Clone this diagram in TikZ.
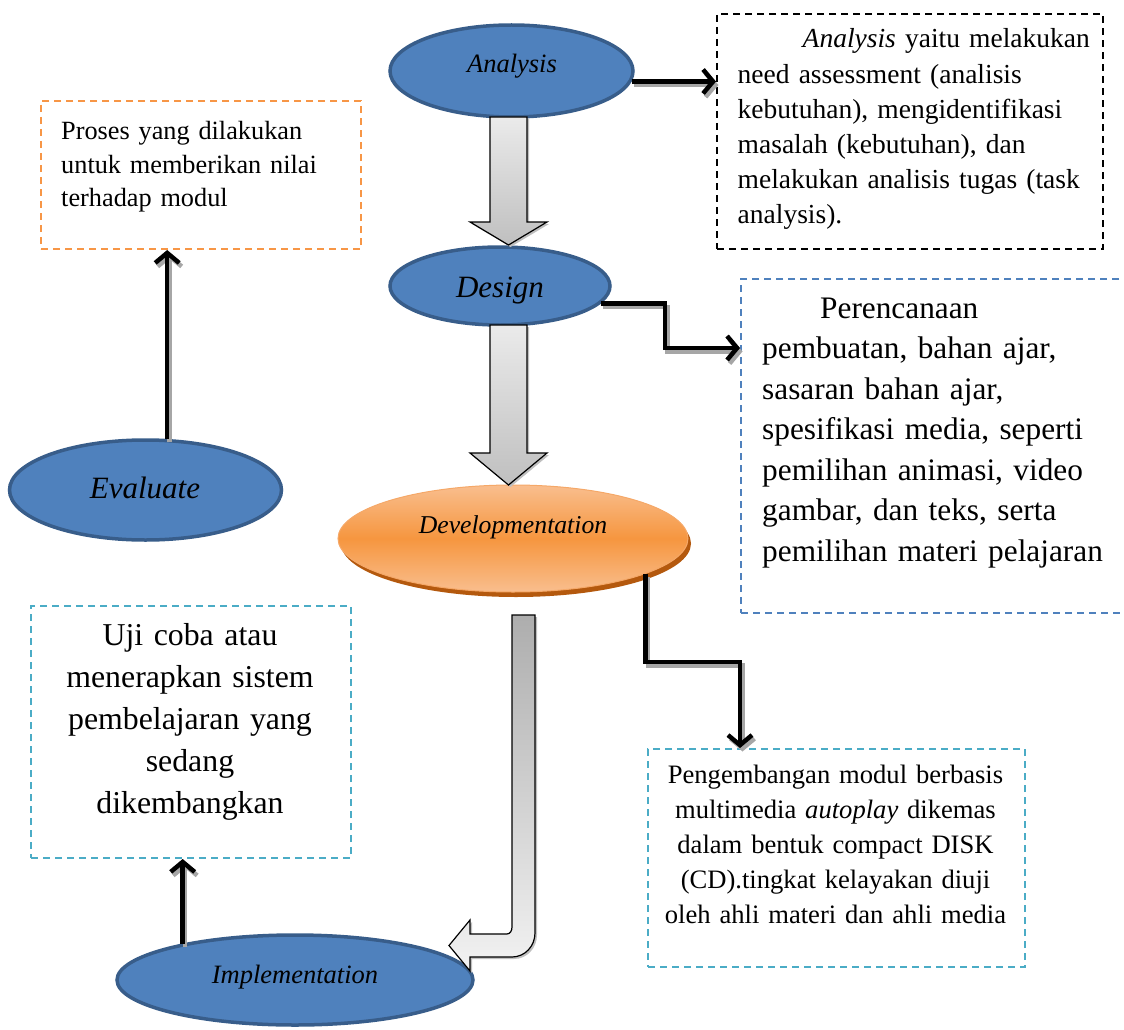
\documentclass[tikz,border=0pt]{standalone}
\usepackage{fontspec}
\setmainfont{Liberation Serif}
\usetikzlibrary{shapes.geometric,arrows.meta,calc}
\definecolor{blfill}{HTML}{4F81BD}
\definecolor{bldraw}{HTML}{385D8A}
\definecolor{orbox}{HTML}{F79646}
\definecolor{bluebox}{HTML}{4F81BD}
\definecolor{tealbox}{HTML}{4BACC6}
\definecolor{orlight}{HTML}{F9BE8E}
\definecolor{ormid}{HTML}{F6963F}
\definecolor{ordark}{HTML}{B4590E}
\definecolor{oredge}{HTML}{F5A868}
\begin{document}
\begin{tikzpicture}[x=1pt,y=-1pt,
  blueell/.style={ellipse, draw=bldraw, line width=3.5pt, fill=blfill, inner sep=0pt},
  elltext/.style={anchor=base, inner sep=0pt, font=\itshape\fontsize{#1}{#1}\selectfont},
  dbox/.style={draw=#1, line width=2pt, dash pattern=on 7pt off 5pt, anchor=north west, inner sep=0pt},
  conn/.style={line width=4.5pt, -{Straight Barb[length=10pt,width=24pt,line width=4.5pt]}},
  connshadow/.style={conn, draw=black!35, transform canvas={shift={(2.5,3.5)}}},
  blockshade/.style={draw=black, line width=1.2pt}
]
\useasboundingbox (0,0) rectangle (1124,1030);

% ---------- ellipses ----------
\node[blueell, minimum width=243pt, minimum height=92pt] (an) at (511.5,71) {};
\node[elltext=26.5] (antx) at (512,73) {Analysis};

\node[blueell, minimum width=220pt, minimum height=78pt] (design) at (500,286) {};
\node[elltext=31] (destx) at (500,297) {Design};

\node[blueell, minimum width=272pt, minimum height=100pt] (ev) at (145.5,490) {};
\node[elltext=31] (evtx) at (145,498) {Evaluate};

\node[blueell, minimum width=356pt, minimum height=90pt] (impl) at (295,980) {};
\node[elltext=26.5] (impltx) at (295,983) {Implementation};

% developmentation (orange with shadow)
\fill[ordark] (516,543.5) ellipse [x radius=175pt, y radius=53.5pt];
\node[ellipse, inner sep=0pt, minimum width=350pt, minimum height=107pt,
      top color=orlight, bottom color=orlight, middle color=ormid, draw=oredge, line width=1pt] (dev) at (513,538.5) {};
\node[elltext=25.7] (devtx) at (513,533) {Developmentation};

% ---------- boxes ----------
\node[dbox=orbox, minimum width=320pt, minimum height=148pt] (evbox) at (40,100) {};
\node[anchor=base west, inner sep=0pt, text width=300pt, align=left,
      font=\fontsize{26.3}{33.5}\selectfont] (evtext) at (61,139.5)
  {Proses yang dilakukan\\untuk memberikan nilai\\terhadap modul};

\node[dbox=black, minimum width=386pt, minimum height=235pt] (anbox) at (716,13) {};
\node[anchor=base west, inner sep=0pt, text width=370pt, align=left,
      font=\fontsize{27.5}{35.2}\selectfont] (antext) at (737.5,48)
  {\hspace*{65pt}\textit{Analysis} yaitu melakukan\\need assessment (analisis\\kebutuhan), mengidentifikasi\\masalah (kebutuhan), dan\\melakukan analisis tugas (task\\analysis).};

\node[dbox=bluebox, minimum width=400pt, minimum height=334pt] (desbox) at (740,278) {};
\node[anchor=base west, inner sep=0pt, text width=370pt, align=left,
      font=\fontsize{31.3}{40.5}\selectfont] (destext) at (762,318)
  {\hspace*{58pt}Perencanaan\\pembuatan, bahan ajar,\\sasaran bahan ajar,\\spesifikasi media, seperti\\pemilihan animasi, video\\gambar, dan teks, serta\\pemilihan materi pelajaran};

\node[dbox=tealbox, minimum width=320pt, minimum height=252pt] (ujibox) at (30,605) {};
\node[anchor=base, inner sep=0pt, text width=310pt, align=center,
      font=\fontsize{31.8}{42}\selectfont] (ujitext) at (190,645)
  {Uji coba atau\\menerapkan sistem\\pembelajaran yang\\sedang\\dikembangkan};

\node[dbox=tealbox, minimum width=377pt, minimum height=218pt] (pengbox) at (647,748) {};
\node[anchor=base, inner sep=0pt, text width=370pt, align=center,
      font=\fontsize{26.6}{35}\selectfont] (pengtext) at (835.5,783)
  {Pengembangan modul berbasis\\multimedia \textit{autoplay} dikemas\\dalam bentuk compact DISK\\(CD).tingkat kelayakan diuji\\oleh ahli materi dan ahli media};

% ---------- block arrows ----------
\fill[black!25] (492,119) -- (529,119) -- (529,224) -- (549,224) -- (510.5,247) -- (472,224) -- (492,224) -- cycle;
\shade[top color=black!8, bottom color=black!25, blockshade]
  (490,117) -- (527,117) -- (527,222) -- (547,222) -- (508.5,245) -- (470,222) -- (490,222) -- cycle;

\fill[black!25] (492,327) -- (529,327) -- (529,455) -- (549,455) -- (510.5,487) -- (472,455) -- (492,455) -- cycle;
\shade[top color=black!8, bottom color=black!25, blockshade]
  (490,325) -- (527,325) -- (527,453) -- (547,453) -- (508.5,485) -- (470,453) -- (490,453) -- cycle;

\fill[black!25] (514,617) -- (537,617) -- (537,935) to[out=-90,in=0] (514,959) -- (472,959) -- (472,973) -- (451,947.5) -- (472,922) -- (472,936) -- (509,936) to[out=0,in=-90] (514,929) -- cycle;
\shade[top color=black!32, bottom color=black!5, blockshade]
  (512,615) -- (535,615) -- (535,933) to[out=-90,in=0] (512,957) -- (470,957) -- (470,971) -- (449,945.5) -- (470,920) -- (470,934) -- (507,934) to[out=0,in=-90] (512,927) -- cycle;

% ---------- connectors ----------
\coordinate (dturn) at (665,348);
\coordinate (devturn) at (740,662);
\draw[connshadow] (an.-5) -- (an.-5 -| anbox.west);
\draw[connshadow] (design.-10) -| (dturn) -- (dturn -| desbox.west);
\draw[connshadow] (dev.-15) |- (devturn) -- (devturn |- pengbox.north);
\draw[connshadow] (ev.67) -- (ev.67 |- evbox.south);
\draw[connshadow] (impl.162.5) -- (impl.162.5 |- ujibox.south);

\draw[conn] (an.-5) -- (an.-5 -| anbox.west);
\draw[conn] (design.-10) -| (dturn) -- (dturn -| desbox.west);
\draw[conn] (dev.-15) |- (devturn) -- (devturn |- pengbox.north);
\draw[conn] (ev.67) -- (ev.67 |- evbox.south);
\draw[conn] (impl.162.5) -- (impl.162.5 |- ujibox.south);
\end{tikzpicture}
\end{document}
